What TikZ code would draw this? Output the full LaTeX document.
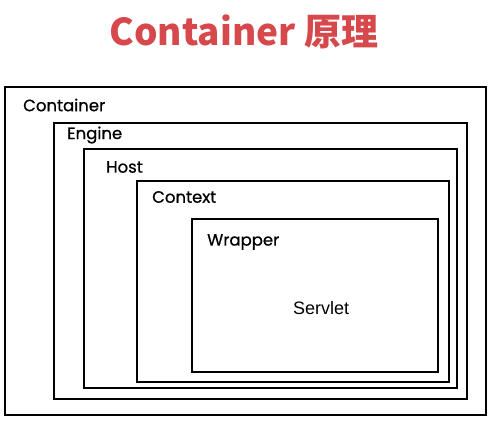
\documentclass[tikz,border=0pt]{standalone}
\usepackage{fontspec}
\newfontfamily\cjk{Noto Sans CJK SC}
\newfontfamily\lblfont{Poppins}[FakeBold=0.7]
\setmainfont{Liberation Sans}
\definecolor{titlered}{RGB}{214,72,76}
\begin{document}
\begin{tikzpicture}[x=1pt,y=-1pt,
  box/.style={draw=black,line width=1.9pt},
  lbl/.style={anchor=west,inner sep=0pt,font=\lblfont\fontsize{16.5}{19}\selectfont}]
\useasboundingbox[fill=white] (0,0) rectangle (500,431);
\node[text=titlered,font=\cjk\bfseries\fontsize{37}{40}\selectfont] (title) at (244,32) {Container 原理};
\draw[box] (5,87) rectangle (486,415);
\draw[box] (54,123) rectangle (467,399);
\draw[box] (84,149) rectangle (457,388);
\draw[box] (137,181) rectangle (449,382);
\draw[box] (192,219) rectangle (438,372);
\node[lbl] (container) at (23,105) {Container};
\node[lbl] (engine) at (67,135) {Engine};
\node[lbl] (host) at (106,167) {Host};
\node[lbl] (context) at (152,197) {Context};
\node[lbl] (wrapper) at (207,242) {Wrapper};
\node[lbl,font=\fontsize{18}{20}\selectfont] (servlet) at (293,308) {Servlet};
\end{tikzpicture}
\end{document}
